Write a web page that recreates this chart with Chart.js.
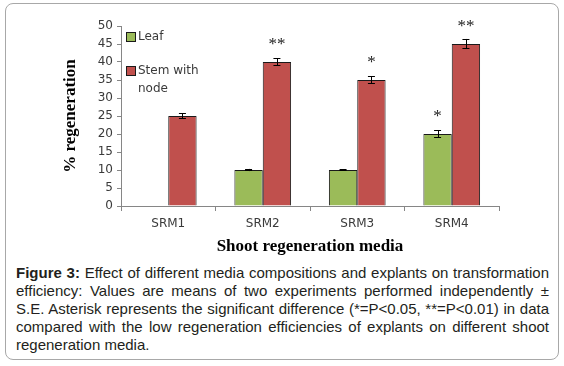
<!DOCTYPE html>
<html>
<head>
<meta charset="utf-8">
<script src="https://cdn.jsdelivr.net/npm/chart.js@4/dist/chart.umd.min.js"></script>
<style>
  body { margin: 0; background: #fff; }
  #frame {
    position: absolute; left: 5px; top: 3px; width: 554px; height: 357px;
    box-sizing: border-box; border: 1px solid #a8a8a8; border-radius: 8px;
  }
  #chart { position: absolute; left: 0; top: 0; }
  #caption {
    position: absolute; left: 16px; top: 264px; width: 533px;
    font-family: "Liberation Sans", Arial, sans-serif; font-size: 15px;
    line-height: 18px; color: #231f20;
  }
  #caption div { text-align: justify; text-align-last: justify; white-space: nowrap; }
  #caption div.last { text-align-last: left; }
</style>
</head>
<body>
<div id="frame"></div>
<canvas id="chart" width="564" height="260"></canvas>
<div id="caption">
  <div><b>Figure 3:</b> Effect of different media compositions and explants on transformation</div>
  <div>efficiency: Values are means of two experiments performed independently ±</div>
  <div>S.E. Asterisk represents the significant difference (*=P&lt;0.05, **=P&lt;0.01) in data</div>
  <div>compared with the low regeneration efficiencies of explants on different shoot</div>
  <div class="last">regeneration media.</div>
</div>
<script>
// data
const media = ['SRM1', 'SRM2', 'SRM3', 'SRM4'];
const seriesNames = ['Leaf', 'Stem with node'];
const legendLines = [['Leaf'], ['Stem with', 'node']];
const leaf = [null, 10, 10, 20];
const stem = [25, 40, 35, 45];
const leafErr = [0, 0.3, 0.2, 1.0];
const stemErr = [0.7, 1.1, 1.1, 1.4];
const leafSig = ['', '', '', '*'];
const stemSig = ['', '**', '*', '**'];

const colors = ['#9bbb59', '#c0504d'];
const errs = [leafErr, stemErr];
const sigs = [leafSig, stemSig];
const axisGray = '#868686';
const textGray = '#3a3a3a';
const tickFont = { family: 'DejaVu Sans', size: 12 };

// error bars, significance stars and the inset legend
const overlay = {
    id: 'overlay',
    afterDatasetsDraw(chart) {
        const ctx = chart.ctx;
        const yScale = chart.scales.y;
        ctx.save();
        chart.data.datasets.forEach((ds, i) => {
            const meta = chart.getDatasetMeta(i);
            meta.data.forEach((bar, j) => {
                const v = ds.data[j];
                if (v == null) return;
                const e = errs[i][j];
                const x = bar.x;
                const yTop = yScale.getPixelForValue(v + e);
                const yBot = yScale.getPixelForValue(v - e);
                ctx.strokeStyle = '#000';
                ctx.lineWidth = 1;
                ctx.beginPath();
                ctx.moveTo(Math.round(x) + 0.5, yTop);
                ctx.lineTo(Math.round(x) + 0.5, yBot);
                ctx.moveTo(x - 3.5, Math.round(yTop) + 0.5);
                ctx.lineTo(x + 3.5, Math.round(yTop) + 0.5);
                ctx.moveTo(x - 3.5, Math.round(yBot) - 0.5);
                ctx.lineTo(x + 3.5, Math.round(yBot) - 0.5);
                ctx.stroke();

                const s = sigs[i][j];
                if (s) {
                    ctx.fillStyle = '#222';
                    ctx.font = '17px "Liberation Serif"';
                    ctx.textAlign = 'center';
                    ctx.textBaseline = 'alphabetic';
                    ctx.fillText(s, x, yScale.getPixelForValue(v) - 22 + 9);
                }
            });
        });

        // legend in the top-left of the plot
        const area = chart.chartArea;
        const lx = area.left + 5;
        const rows = [area.top + 11, area.top + 45];
        ctx.font = '12px "DejaVu Sans"';
        ctx.textAlign = 'left';
        ctx.textBaseline = 'middle';
        legendLines.forEach((lines, i) => {
            const cy = rows[i];
            ctx.fillStyle = colors[i];
            ctx.fillRect(lx, cy - 5, 10, 10);
            ctx.strokeStyle = '#1a1a1a';
            ctx.strokeRect(lx + 0.5, cy - 4.5, 9, 9);
            ctx.fillStyle = textGray;
            lines.forEach((t, k) => ctx.fillText(t, lx + 12, cy + k * 18));
        });
        ctx.restore();
    }
};

const ctx = document.getElementById('chart').getContext('2d');
new Chart(ctx, {
    type: 'bar',
    data: {
        labels: media,
        datasets: [leaf, stem].map((d, i) => ({
            label: seriesNames[i],
            data: d,
            backgroundColor: colors[i],
            borderColor: '#1a1a1a',
            borderWidth: 1,
            categoryPercentage: 0.6,
            barPercentage: 1.0
        }))
    },
    options: {
        responsive: false,
        animation: false,
        layout: { padding: { left: 55, right: 65, top: 26, bottom: 0 } },
        plugins: {
            legend: { display: false },
            tooltip: { enabled: false }
        },
        scales: {
            x: {
                grid: { drawOnChartArea: false, offset: true, tickLength: 5, color: axisGray },
                border: { color: axisGray },
                ticks: { font: tickFont, color: textGray, padding: 6 },
                title: {
                    display: true,
                    text: 'Shoot regeneration media',
                    color: '#000',
                    font: { family: 'Liberation Serif', size: 17, weight: 'bold' },
                    padding: { top: 0, bottom: 3 }
                },
                afterFit: (s) => { s.height = 54; }
            },
            y: {
                min: 0,
                max: 50,
                ticks: { stepSize: 5, font: tickFont, color: textGray, padding: 4 },
                grid: { drawOnChartArea: false, tickLength: 4, color: axisGray },
                border: { color: axisGray },
                title: {
                    display: true,
                    text: '% regeneration',
                    color: '#000',
                    font: { family: 'Liberation Serif', size: 17, weight: 'bold' },
                    padding: { top: 5, bottom: 0 }
                },
                afterFit: (s) => { s.width = 66; }
            }
        }
    },
    plugins: [overlay]
});
</script>
</body>
</html>
